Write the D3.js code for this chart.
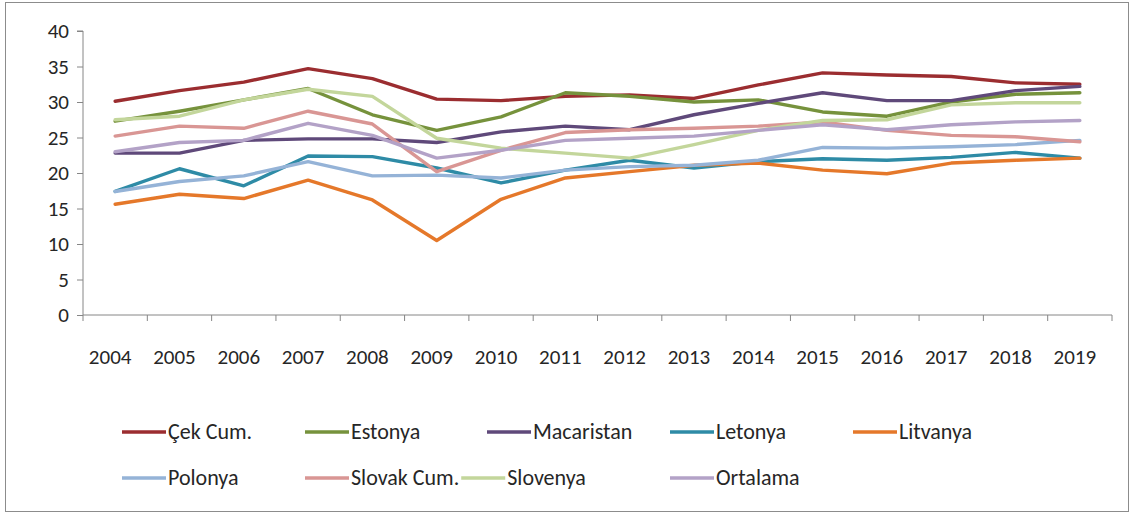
<!DOCTYPE html>
<html>
<head>
<meta charset="utf-8">
<script src="https://cdn.jsdelivr.net/npm/d3@7/dist/d3.min.js"></script>
<style>
  html, body { margin: 0; padding: 0; background: #fff; }
  svg text { font-family: Carlito, Calibri, "Liberation Sans Narrow", "Open Sans", sans-serif; fill: #262626; }
</style>
</head>
<body>
<svg id="chart" width="1135" height="516"></svg>
<script>
const years = ["2004","2005","2006","2007","2008","2009","2010","2011","2012","2013","2014","2015","2016","2017","2018","2019"];
const yTicks = [0, 5, 10, 15, 20, 25, 30, 35, 40];

const cek        = [30.1,31.6,32.8,34.7,33.3,30.4,30.2,30.8,31.0,30.5,32.4,34.1,33.8,33.6,32.7,32.5];
const estonya    = [27.3,28.7,30.3,31.9,28.2,26.0,27.9,31.3,30.8,30.0,30.3,28.6,28.0,30.0,31.1,31.3];
const macaristan = [22.8,22.8,24.6,24.8,24.8,24.3,25.8,26.6,26.1,28.2,29.8,31.3,30.2,30.2,31.6,32.2];
const letonya    = [17.4,20.6,18.2,22.4,22.3,20.7,18.6,20.4,21.8,20.7,21.6,22.0,21.8,22.2,22.9,22.1];
const litvanya   = [15.6,17.0,16.4,19.0,16.2,10.5,16.3,19.3,20.2,21.1,21.4,20.4,19.9,21.4,21.8,22.1];
const polonya    = [17.4,18.8,19.6,21.6,19.6,19.7,19.3,20.4,20.9,21.1,21.8,23.6,23.5,23.7,24.0,24.6];
const slovak     = [25.2,26.6,26.3,28.7,26.9,20.2,23.2,25.7,26.1,26.3,26.6,27.2,26.0,25.3,25.1,24.4];
const slovenya   = [27.5,28.0,30.3,31.8,30.8,24.9,23.5,22.8,22.1,24.0,26.0,27.4,27.5,29.6,29.9,29.9];
const ortalama   = [23.0,24.3,24.6,27.0,25.3,22.1,23.2,24.6,24.9,25.2,26.0,26.8,26.1,26.8,27.2,27.4];

const seriesNames = ["Çek Cum.","Estonya","Macaristan","Letonya","Litvanya","Polonya","Slovak Cum.","Slovenya","Ortalama"];
const seriesValues = [cek, estonya, macaristan, letonya, litvanya, polonya, slovak, slovenya, ortalama];
const seriesColors = ["#9B2D30","#76923C","#5F497A","#2E8BA6","#E5782A","#95B3D7","#D99694","#C3D69B","#B3A2C7"];

(function () {
const svg = d3.select("#chart");

// outer frame
svg.append("rect").attr("x", 5.5).attr("y", 2.5).attr("width", 1123).attr("height", 509)
  .attr("fill", "#fff").attr("stroke", "#8c8c8c").attr("stroke-width", 1);

const pl = 83, pr = 1112, pt = 31, pb = 315;

const x = d3.scaleBand().domain(years).range([pl, pr]).paddingInner(0).paddingOuter(0);
const y = d3.scaleLinear().domain([0, 40]).range([pb, pt]);

// y axis
const yAxis = d3.axisLeft(y).tickValues(yTicks).tickSize(6).tickPadding(8).tickFormat(d3.format("d"));
const gy = svg.append("g").attr("transform", `translate(${pl},0)`).call(yAxis);
gy.select(".domain").attr("stroke", "#868686").attr("d", `M-6,${pt}H0V${pb}`);
gy.selectAll(".tick line").attr("stroke", "#868686");
gy.selectAll(".tick text").attr("font-size", 21).attr("fill", "#262626").attr("font-family", null);

// x axis with ticks between categories
const gx = svg.append("g").attr("transform", `translate(0,${pb})`);
gx.append("line").attr("x1", pl).attr("x2", pr).attr("y1", 0).attr("y2", 0).attr("stroke", "#868686");
const boundaries = years.map(d => x(d)).concat([x(years[years.length-1]) + x.bandwidth()]);
gx.selectAll("line.tk").data(boundaries).enter().append("line").attr("class","tk")
  .attr("x1", d => d).attr("x2", d => d).attr("y1", 0).attr("y2", 6).attr("stroke", "#868686");
gx.selectAll("text").data(years).enter().append("text")
  .attr("x", d => x(d) + x.bandwidth()/2 - 5).attr("y", 49)
  .attr("text-anchor", "middle").attr("font-size", 21).text(d => d);

// lines
const line = d3.line().x((d, i) => x(years[i]) + x.bandwidth()/2).y(d => y(d));
svg.append("g").selectAll("path").data(seriesValues).enter().append("path")
  .attr("d", d => line(d)).attr("fill", "none")
  .attr("stroke", (d, i) => seriesColors[i]).attr("stroke-width", 3.4)
  .attr("stroke-linejoin", "round").attr("stroke-linecap", "round");

// legend: 5 columns; row 2 entry 3 flows right after the previous label
const colX = [122, 305, 487, 670, 853];
const rowY = [432, 478];
const lg = svg.append("g");
let prevEnd = 0;
seriesNames.forEach((name, i) => {
  const row = i < 5 ? 0 : 1;
  let lx = row === 0 ? colX[i] : [colX[0], colX[1], null, colX[3]][i - 5];
  if (lx === null) lx = prevEnd + 2;
  const ly = rowY[row];
  lg.append("line").attr("x1", lx).attr("x2", lx + 44).attr("y1", ly).attr("y2", ly)
    .attr("stroke", seriesColors[i]).attr("stroke-width", 3.4);
  const t = lg.append("text").attr("x", lx + 46).attr("y", ly + 7).attr("font-size", 22).text(name);
  prevEnd = lx + 46 + t.node().getComputedTextLength();
});
})();
</script>
</body>
</html>
